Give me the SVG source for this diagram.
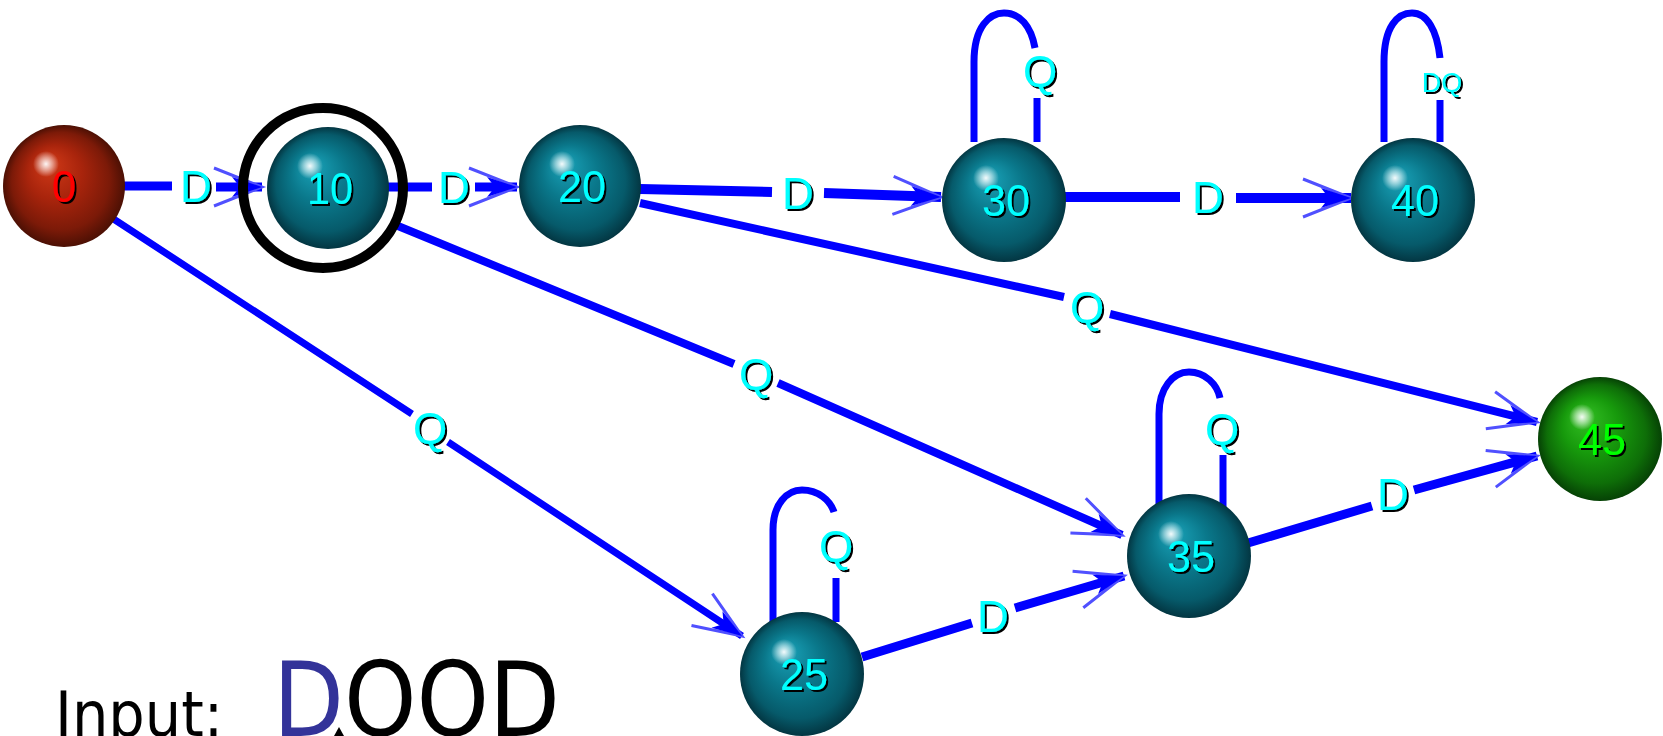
<svg xmlns="http://www.w3.org/2000/svg" width="1663" height="736" viewBox="0 0 1663 736">
  <style>
    .edge { fill: none; stroke: #0000ff; stroke-width: 9; }
    .loop { fill: none; stroke: #0000ff; stroke-width: 7; }
    .lbl { font-family: "Liberation Sans", Arial, sans-serif; font-size: 44px; text-anchor: middle; fill: #00ffff; filter: url(#sh); }
    .num { font-family: "Liberation Sans", Arial, sans-serif; font-size: 44px; text-anchor: middle; fill: #00ffff; filter: url(#sh); }
    .input { font-family: "DejaVu Sans Condensed", "DejaVu Sans", sans-serif; fill: #000000; }
  </style>
  <defs>
    <filter id="sh" x="-20%" y="-20%" width="140%" height="140%">
      <feDropShadow dx="2" dy="2" stdDeviation="0.4" flood-color="#000000" flood-opacity="1"/>
    </filter>
    <radialGradient id="teal" cx="0.5" cy="0.5" r="0.5" fx="0.36" fy="0.3">
      <stop offset="0" stop-color="#1aa4ba"/>
      <stop offset="0.45" stop-color="#0a788b"/>
      <stop offset="0.8" stop-color="#065a6a"/>
      <stop offset="1" stop-color="#033642"/>
    </radialGradient>
    <radialGradient id="red" cx="0.5" cy="0.5" r="0.5" fx="0.36" fy="0.3">
      <stop offset="0" stop-color="#d23a18"/>
      <stop offset="0.45" stop-color="#a8240c"/>
      <stop offset="0.8" stop-color="#7c1a08"/>
      <stop offset="1" stop-color="#4c1004"/>
    </radialGradient>
    <radialGradient id="green" cx="0.5" cy="0.5" r="0.5" fx="0.36" fy="0.3">
      <stop offset="0" stop-color="#34c024"/>
      <stop offset="0.45" stop-color="#179a0c"/>
      <stop offset="0.8" stop-color="#0e6e08"/>
      <stop offset="1" stop-color="#064205"/>
    </radialGradient>
    <radialGradient id="spot" cx="0.5" cy="0.5" r="0.5">
      <stop offset="0" stop-color="#ffffff" stop-opacity="0.95"/>
      <stop offset="0.5" stop-color="#ffffff" stop-opacity="0.5"/>
      <stop offset="1" stop-color="#ffffff" stop-opacity="0"/>
    </radialGradient>
    <marker id="arr" markerUnits="userSpaceOnUse" markerWidth="60" markerHeight="44" refX="50" refY="22" orient="auto" overflow="visible">
      <path d="M2,3 L50,22 L2,41" fill="none" stroke="#5050ff" stroke-width="3"/>
      <path d="M20,12 L50,22 L20,32 L28,22 Z" fill="#0000ff"/>
    </marker>
  </defs>

  <!-- transitions -->
  <g id="edges">
    <path class="edge" d="M122,186 L172,186 M216,187 L262,187" marker-end="url(#arr)"/>
    <path class="edge" d="M388,187 L432,187 M475,187 L517,187" marker-end="url(#arr)"/>
    <path class="edge" d="M640,189 L772,192 M824,193 L941,197" marker-end="url(#arr)" style="stroke-width:10"/>
    <path class="edge" d="M1064,197 L1180,197 M1236,198 L1351,198" marker-end="url(#arr)" style="stroke-width:10"/>
    <path class="edge" d="M640,203 L1064,297 M1110,314 L1537,422" marker-end="url(#arr)" style="stroke-width:8"/>
    <path class="edge" d="M398,226 L734,364 M778,383 L1122,535" marker-end="url(#arr)" style="stroke-width:8"/>
    <path class="edge" d="M112,218 L412,414 M448,442 L742,636" marker-end="url(#arr)" style="stroke-width:7"/>
    <path class="edge" d="M862,657 L972,623 M1015,608 L1124,576" marker-end="url(#arr)"/>
    <path class="edge" d="M1248,543 L1372,506 M1414,490 L1537,456" marker-end="url(#arr)"/>

    <path class="loop" d="M974,142 L974,62 C974,26 990,13 1004,13 C1020,13 1031,26 1035,48 M1037,98 L1037,142"/>
    <path class="loop" d="M1384,142 L1384,62 C1384,26 1398,13 1412,13 C1427,13 1437,30 1440,58 M1440,100 L1440,142"/>
    <path class="loop" d="M773,622 L773,530 C773,504 787,490 802,490 C818,490 830,500 834,512 M836,578 L836,622"/>
    <path class="loop" d="M1159,510 L1159,414 C1159,388 1173,372 1189,372 C1205,372 1217,384 1220,398 M1223,455 L1223,508"/>

    <text class="lbl" x="196" y="202">D</text>
    <text class="lbl" x="454" y="203">D</text>
    <text class="lbl" x="798" y="209">D</text>
    <text class="lbl" x="1208" y="213">D</text>
    <text class="lbl" x="1087" y="323">Q</text>
    <text class="lbl" x="756" y="390">Q</text>
    <text class="lbl" x="430" y="444">Q</text>
    <text class="lbl" x="993" y="632">D</text>
    <text class="lbl" x="1393" y="510">D</text>
    <text class="lbl" x="1040" y="87">Q</text>
    <text class="lbl" x="1442" y="92" style="font-size:27px">DQ</text>
    <text class="lbl" x="836" y="562">Q</text>
    <text class="lbl" x="1222" y="445">Q</text>
  </g>

  <g id="node-0">
    <circle cx="64" cy="186" r="61" fill="url(#red)"/>
    <circle cx="46" cy="164" r="13" fill="url(#spot)"/>
    <text class="num" x="64" y="202" style="fill:#ff0000">0</text>
  </g>
  <g id="node-10">
    <circle cx="328" cy="188" r="61" fill="url(#teal)"/>
    <circle cx="310" cy="166" r="13" fill="url(#spot)"/>
    <text class="num" x="330" y="204" textLength="46" lengthAdjust="spacingAndGlyphs">10</text>
    <circle cx="323" cy="188" r="80" fill="none" stroke="#000000" stroke-width="10"/>
  </g>
  <g id="node-20">
    <circle cx="580" cy="186" r="61" fill="url(#teal)"/>
    <circle cx="562" cy="164" r="13" fill="url(#spot)"/>
    <text class="num" x="582" y="202" textLength="48" lengthAdjust="spacingAndGlyphs">20</text>
  </g>
  <g id="node-30">
    <circle cx="1004" cy="200" r="62" fill="url(#teal)"/>
    <circle cx="986" cy="178" r="13" fill="url(#spot)"/>
    <text class="num" x="1006" y="216" textLength="48" lengthAdjust="spacingAndGlyphs">30</text>
  </g>
  <g id="node-40">
    <circle cx="1413" cy="200" r="62" fill="url(#teal)"/>
    <circle cx="1395" cy="178" r="13" fill="url(#spot)"/>
    <text class="num" x="1415" y="216" textLength="48" lengthAdjust="spacingAndGlyphs">40</text>
  </g>
  <g id="node-45">
    <circle cx="1600" cy="439" r="62" fill="url(#green)"/>
    <circle cx="1582" cy="417" r="13" fill="url(#spot)"/>
    <text class="num" x="1602" y="455" textLength="48" lengthAdjust="spacingAndGlyphs" style="fill:#00ff00">45</text>
  </g>
  <g id="node-35">
    <circle cx="1189" cy="556" r="62" fill="url(#teal)"/>
    <circle cx="1171" cy="534" r="13" fill="url(#spot)"/>
    <text class="num" x="1191" y="572" textLength="48" lengthAdjust="spacingAndGlyphs">35</text>
  </g>
  <g id="node-25">
    <circle cx="802" cy="674" r="62" fill="url(#teal)"/>
    <circle cx="784" cy="652" r="13" fill="url(#spot)"/>
    <text class="num" x="804" y="690" textLength="48" lengthAdjust="spacingAndGlyphs">25</text>
  </g>

  <g id="input">
    <text class="input" x="55" y="736" font-size="62" textLength="168" lengthAdjust="spacingAndGlyphs">Input:</text>
    <text class="input" x="273" y="736" font-size="104" textLength="287" lengthAdjust="spacingAndGlyphs"><tspan fill="#333399">D</tspan>OOD</text>
    <path d="M339,727 L334,736 L344,736 Z" fill="#000000"/>
  </g>
</svg>
